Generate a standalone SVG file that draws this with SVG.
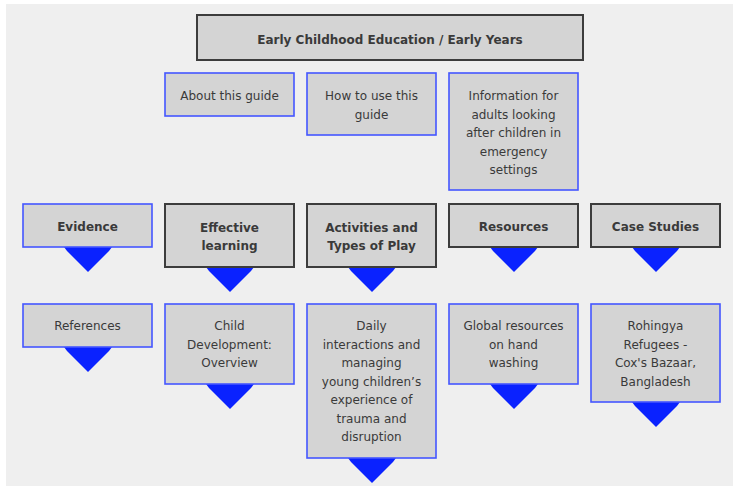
<svg xmlns="http://www.w3.org/2000/svg" width="733" height="486" viewBox="0 0 733 486">
  <style>
    .box { fill: #d4d4d4; }
    .blue { stroke: #4456ff; stroke-width: 1.6; }
    .dark { stroke: #3c3c3c; stroke-width: 2; }
    .t { font-family: "DejaVu Sans", Verdana, sans-serif; font-size: 12px; fill: #3a3a3a; text-anchor: middle; }
    .b { font-weight: bold; }
    .arrow { fill: #0a22ff; }
  </style>
  <defs>
    <!-- downward pointer hung under a box; origin at the box's bottom centre -->
    <polygon id="ptr" points="-24,0 24,0 21,4 0,25 -21,4"/>
  </defs>
  <rect x="0" y="0" width="733" height="486" fill="#ffffff"/>
  <rect x="6" y="4" width="727" height="482" fill="#efefef"/>

  <g id="connectors" class="arrow">
    <use href="#ptr" x="88" y="247"/>
    <use href="#ptr" x="230" y="267"/>
    <use href="#ptr" x="372" y="267"/>
    <use href="#ptr" x="514" y="247"/>
    <use href="#ptr" x="656" y="247"/>
    <use href="#ptr" x="88" y="347"/>
    <use href="#ptr" x="230" y="384"/>
    <use href="#ptr" x="372" y="458"/>
    <use href="#ptr" x="514" y="384"/>
    <use href="#ptr" x="656" y="402"/>
  </g>

  <g id="root">
    <rect class="box dark" x="197" y="15" width="386" height="45"/>
    <text class="t b" x="390" y="44">Early Childhood Education / Early Years</text>
  </g>

  <g id="about">
    <rect class="box blue" x="165" y="73" width="129" height="43"/>
    <text class="t" x="229.5" y="100">About this guide</text>
  </g>
  <g id="howto">
    <rect class="box blue" x="307" y="73" width="129" height="62"/>
    <text class="t" x="371.5" y="100">How to use this</text>
    <text class="t" x="371.5" y="118.5">guide</text>
  </g>
  <g id="info">
    <rect class="box blue" x="449" y="73" width="129" height="117"/>
    <text class="t" x="513.5" y="100">Information for</text>
    <text class="t" x="513.5" y="118.5">adults looking</text>
    <text class="t" x="513.5" y="137">after children in</text>
    <text class="t" x="513.5" y="155.5">emergency</text>
    <text class="t" x="513.5" y="174">settings</text>
  </g>

  <g id="evidence">
    <rect class="box blue" x="23" y="204" width="129" height="43"/>
    <text class="t b" x="87.5" y="230.5" fill="#111">Evidence</text>
  </g>
  <g id="effective">
    <rect class="box dark" x="165" y="204" width="129" height="63"/>
    <text class="t b" x="229.5" y="232">Effective</text>
    <text class="t b" x="229.5" y="250">learning</text>
  </g>
  <g id="activities">
    <rect class="box dark" x="307" y="204" width="129" height="63"/>
    <text class="t b" x="371.5" y="232">Activities and</text>
    <text class="t b" x="371.5" y="250">Types of Play</text>
  </g>
  <g id="resources">
    <rect class="box dark" x="449" y="204" width="129" height="43"/>
    <text class="t b" x="513.5" y="231">Resources</text>
  </g>
  <g id="casestudies">
    <rect class="box dark" x="591" y="204" width="129" height="43"/>
    <text class="t b" x="655.5" y="231">Case Studies</text>
  </g>

  <g id="references">
    <rect class="box blue" x="23" y="304" width="129" height="43"/>
    <text class="t" x="87.5" y="330">References</text>
  </g>
  <g id="childdev">
    <rect class="box blue" x="165" y="304" width="129" height="80"/>
    <text class="t" x="229.5" y="330">Child</text>
    <text class="t" x="229.5" y="348.5">Development:</text>
    <text class="t" x="229.5" y="367">Overview</text>
  </g>
  <g id="daily">
    <rect class="box blue" x="307" y="304" width="129" height="154"/>
    <text class="t" x="371.5" y="330">Daily</text>
    <text class="t" x="371.5" y="348.5">interactions and</text>
    <text class="t" x="371.5" y="367">managing</text>
    <text class="t" x="371.5" y="385.5">young children’s</text>
    <text class="t" x="371.5" y="404">experience of</text>
    <text class="t" x="371.5" y="422.5">trauma and</text>
    <text class="t" x="371.5" y="441">disruption</text>
  </g>
  <g id="global">
    <rect class="box blue" x="449" y="304" width="129" height="80"/>
    <text class="t" x="513.5" y="330">Global resources</text>
    <text class="t" x="513.5" y="348.5">on hand</text>
    <text class="t" x="513.5" y="367">washing</text>
  </g>
  <g id="rohingya">
    <rect class="box blue" x="591" y="304" width="129" height="98"/>
    <text class="t" x="655.5" y="330">Rohingya</text>
    <text class="t" x="655.5" y="348.5">Refugees -</text>
    <text class="t" x="655.5" y="367">Cox's Bazaar,</text>
    <text class="t" x="655.5" y="385.5">Bangladesh</text>
  </g>
</svg>
